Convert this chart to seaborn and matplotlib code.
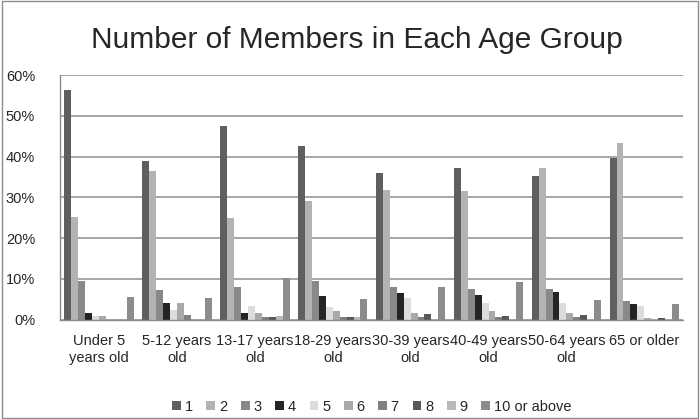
import pandas as pd
import matplotlib.pyplot as plt
import seaborn as sns
from matplotlib.ticker import PercentFormatter, FixedLocator

age_groups = ['Under 5\nyears old', '5-12 years\nold', '13-17 years\nold', '18-29 years\nold',
              '30-39 years\nold', '40-49 years\nold', '50-64 years\nold', '65 or older']
sizes = ['1', '2', '3', '4', '5', '6', '7', '8', '9', '10 or above']

# share of members per household size, one list per age group (percent)
under5 = [56.2, 25.3, 9.6, 1.6, 0.8, 0.8, 0.0, 0.0, 0.0, 5.6]
age5_12 = [38.9, 36.4, 7.4, 4.1, 2.5, 4.1, 1.1, 0.0, 0.0, 5.3]
age13_17 = [47.5, 24.9, 8.0, 1.6, 3.4, 1.6, 0.6, 0.6, 1.0, 10.3]
age18_29 = [42.5, 29.2, 9.5, 5.7, 3.2, 2.1, 0.7, 0.7, 0.7, 5.1]
age30_39 = [36.0, 31.9, 7.9, 6.6, 5.3, 1.6, 0.6, 1.4, 0.0, 7.9]
age40_49 = [37.3, 31.6, 7.5, 6.1, 4.2, 2.2, 0.6, 1.0, 0.0, 9.2]
age50_64 = [35.3, 37.2, 7.6, 6.9, 4.0, 1.7, 0.7, 1.1, 0.0, 4.8]
age65 = [39.7, 43.3, 4.5, 3.9, 3.4, 0.5, 0.0, 0.5, 0.0, 3.9]

colors = ['#5f5f5f', '#b3b3b3', '#898989', '#242424', '#dcdcdc',
          '#a9a9a9', '#808080', '#585858', '#b9b9b9', '#8c8c8c']

rows = []
for grp, vals in zip(age_groups, [under5, age5_12, age13_17, age18_29,
                                  age30_39, age40_49, age50_64, age65]):
    for s, v in zip(sizes, vals):
        rows.append({'Age': grp, 'Size': s, 'Share': v})
df = pd.DataFrame(rows)

sns.set_style('white')
plt.rcParams['font.family'] = ['Liberation Sans', 'DejaVu Sans']

fig = plt.figure(figsize=(7, 4.19), dpi=100)
ax = fig.add_axes([0.086, 0.237, 0.89, 0.584])

sns.barplot(data=df, x='Age', y='Share', hue='Size', hue_order=sizes,
            palette=colors, width=0.89, gap=0, saturation=1, ax=ax,
            errorbar=None, legend=True, linewidth=0)

ax.set_ylim(0, 60)
ax.set_xlim(-0.5, len(age_groups) - 0.5)
ax.yaxis.set_major_formatter(PercentFormatter(decimals=0))
ax.set_yticks(range(0, 61, 10))
ax.grid(axis='y', color='#a0a0a0', linewidth=1.3)
ax.set_axisbelow(True)
ax.set_xlabel('')
ax.set_ylabel('')

for side in ['top', 'right']:
    ax.spines[side].set_visible(False)
for side in ['left', 'bottom']:
    ax.spines[side].set_color('#8c8c8c')
    ax.spines[side].set_linewidth(1)

ax.tick_params(axis='y', which='major', length=5, color='#8c8c8c', labelsize=10.5, pad=13)
ax.tick_params(axis='x', which='major', length=0, labelsize=10.5, pad=10)
ax.xaxis.set_minor_locator(FixedLocator([i - 0.5 for i in range(len(age_groups) + 1)]))
ax.tick_params(axis='x', which='minor', length=5, color='#8c8c8c', direction='out')
for lbl in ax.get_xticklabels():
    lbl.set_linespacing(1.35)

handles, labels = ax.get_legend_handles_labels()
ax.legend(handles, labels, loc='center', bbox_to_anchor=(0.5, -0.355), ncol=10,
          frameon=False, fontsize=10.5, handlelength=0.6, handleheight=0.6,
          handletextpad=0.25, columnspacing=0.95)

fig.text(0.51, 0.905, 'Number of Members in Each Age Group', ha='center', va='center', fontsize=21.5)

fig.patches.append(plt.Rectangle((0.003, 0.003), 0.994, 0.994, transform=fig.transFigure,
                                 fill=False, edgecolor='#8c8c8c', linewidth=1))

fig.savefig('out.png', dpi=100)
